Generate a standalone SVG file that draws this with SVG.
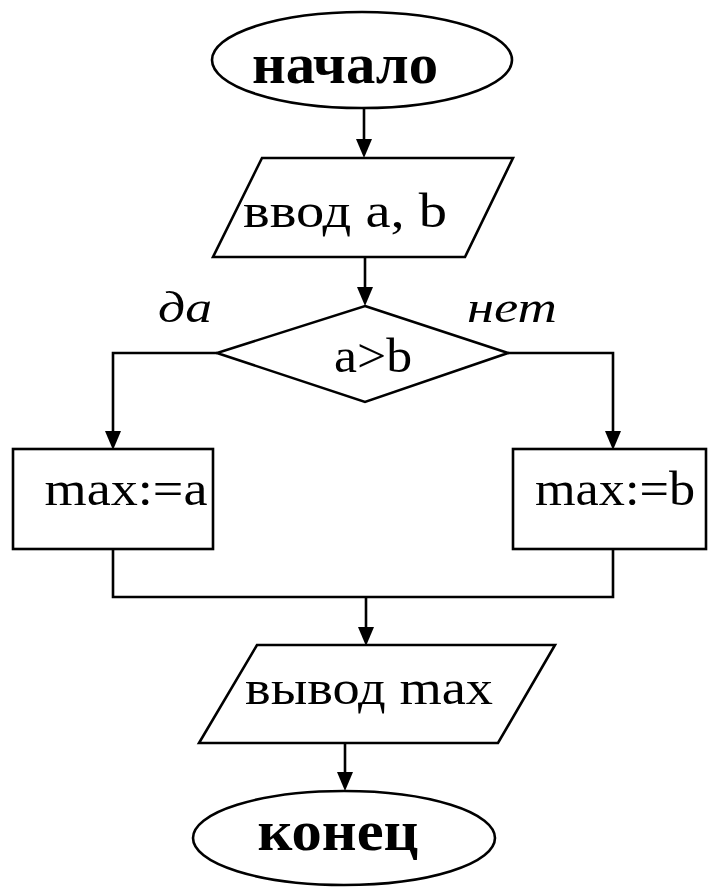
<svg xmlns="http://www.w3.org/2000/svg" width="708" height="888" viewBox="0 0 708 888">
<style>
.s{fill:#fff;stroke:#000;stroke-width:2.6}
.c{fill:none;stroke:#000;stroke-width:2.6}
.t{font-family:"Liberation Serif","DejaVu Serif",serif;fill:#000;text-anchor:middle}
.b{font-weight:bold;font-size:58px}
.n{font-size:48px}
.i{font-style:italic;font-size:44px}
</style>
<rect width="708" height="888" fill="#fff"/>
<g id="connectors">
<path class="c" d="M364,108 V139"/>
<path d="M356,139 L372,139 L364,158 Z"/>
<path class="c" d="M365,257 V287"/>
<path d="M357,287 L373,287 L365,306 Z"/>
<path class="c" d="M217,353 H113 V431"/>
<path d="M105,431 L121,431 L113,450 Z"/>
<path class="c" d="M508,353 H613 V431"/>
<path d="M605,431 L621,431 L613,450 Z"/>
<path class="c" d="M113,549 V597 H613 V549"/>
<path class="c" d="M366,597 V627"/>
<path d="M358,627 L374,627 L366,646 Z"/>
<path class="c" d="M345,743 V772"/>
<path d="M337,772 L353,772 L345,791 Z"/>
</g>
<g id="start">
<ellipse class="s" cx="362" cy="60" rx="150" ry="48"/>
<text class="t b" x="345" y="83" textLength="186" lengthAdjust="spacingAndGlyphs">начало</text>
</g>
<g id="input">
<polygon class="s" points="262,158 513,158 465,257 213,257"/>
<text class="t n" x="345" y="227" textLength="204" lengthAdjust="spacingAndGlyphs">ввод a, b</text>
</g>
<g id="decision">
<polygon class="s" points="365,306 508,353 365,402 217,353"/>
<text class="t n" x="373" y="372" textLength="78" lengthAdjust="spacingAndGlyphs">a&gt;b</text>
</g>
<text class="t i" x="185" y="322" textLength="54" lengthAdjust="spacingAndGlyphs">да</text>
<text class="t i" x="512" y="322" textLength="90" lengthAdjust="spacingAndGlyphs">нет</text>
<g id="maxa">
<rect class="s" x="13" y="449" width="200" height="100"/>
<text class="t n" x="126" y="505" textLength="163" lengthAdjust="spacingAndGlyphs">max:=a</text>
</g>
<g id="maxb">
<rect class="s" x="513" y="449" width="193" height="100"/>
<text class="t n" x="615" y="505" textLength="160" lengthAdjust="spacingAndGlyphs">max:=b</text>
</g>
<g id="output">
<polygon class="s" points="257,645 555,645 498,743 199,743"/>
<text class="t n" x="369" y="704" textLength="248" lengthAdjust="spacingAndGlyphs">вывод max</text>
</g>
<g id="end">
<ellipse class="s" cx="344" cy="838" rx="151" ry="47"/>
<text class="t b" x="338" y="850" textLength="161" lengthAdjust="spacingAndGlyphs">конец</text>
</g>
</svg>
